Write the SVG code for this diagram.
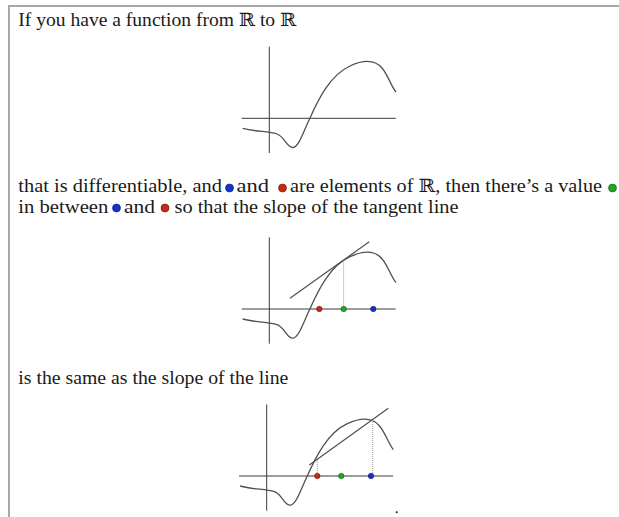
<svg xmlns="http://www.w3.org/2000/svg" xmlns:xlink="http://www.w3.org/1999/xlink" width="619" height="517" viewBox="0 0 619 517">
<style>
.t{font-family:"Liberation Serif","DejaVu Serif",serif;font-size:18.4px;fill:#1a1a1a}
.ax{stroke:#3a3a3a;stroke-width:1;fill:none}
.cv{stroke:#505050;stroke-width:1.3;fill:none}
.tl{stroke:#505050;stroke-width:1.2;fill:none}
.dt{stroke:#9a9a9a;stroke-width:1;stroke-dasharray:1 1;fill:none}
.bd{stroke:#a8a8a8;stroke-width:2;fill:none}
.r{fill:#c42a14;stroke:#6a1208;stroke-width:0.6}
.b{fill:#1434c8;stroke:#0a1a6a;stroke-width:0.6}
.g{fill:#22a822;stroke:#0e5a0e;stroke-width:0.6}
</style>
<defs>
<path id="curve" d="M242.7,128.3 C256,132 268,131 277,134 C285,137 287,148 293,147.5 C299,147 304,130 310,118 C318,100 330,75 350,66 C365,59 375,60 382,68 C388,75 391,86 396,92"/>
</defs>
<g id="border">
<path class="bd" d="M9,517 V6 H619"/>
</g>
<g id="text1">
<text class="t" x="18.3" y="26" textLength="278" lengthAdjust="spacingAndGlyphs">If you have a function from ℝ to ℝ</text>
</g>
<g id="graph1">
<line class="ax" x1="269.3" y1="46.7" x2="269.3" y2="153"/>
<line class="ax" x1="241.7" y1="118.3" x2="395.7" y2="118.3"/>
<use xlink:href="#curve" class="cv"/>
</g>
<g id="text2">
<text class="t" x="18.3" y="192.3" textLength="203.7" lengthAdjust="spacingAndGlyphs">that is differentiable, and</text>
<circle class="b" cx="229.5" cy="188" r="4"/>
<text class="t" x="236.5" y="192.3" textLength="32.5" lengthAdjust="spacingAndGlyphs">and</text>
<circle class="r" cx="282.5" cy="188" r="4"/>
<text class="t" x="290" y="192.3" textLength="312" lengthAdjust="spacingAndGlyphs">are elements of ℝ, then there’s a value</text>
<circle class="g" cx="612.5" cy="188" r="4"/>
<text class="t" x="18.3" y="212.5" textLength="90" lengthAdjust="spacingAndGlyphs">in between</text>
<circle class="b" cx="116.5" cy="208" r="4"/>
<text class="t" x="124" y="212.5" textLength="31" lengthAdjust="spacingAndGlyphs">and</text>
<circle class="r" cx="165" cy="208" r="4"/>
<text class="t" x="174.5" y="212.5" textLength="284" lengthAdjust="spacingAndGlyphs">so that the slope of the tangent line</text>
</g>
<g id="graph2">
<g transform="translate(0,190.7)">
<line class="ax" x1="269.3" y1="46.7" x2="269.3" y2="153"/>
<line class="ax" x1="241.7" y1="118.3" x2="395.7" y2="118.3"/>
<use xlink:href="#curve" class="cv"/>
</g>
<line class="tl" x1="290" y1="298.3" x2="369.3" y2="241.7"/>
<line class="dt" x1="343.6" y1="259.5" x2="343.6" y2="309"/>
<circle class="r" cx="319.3" cy="309" r="2.7"/>
<circle class="g" cx="343.7" cy="309" r="2.7"/>
<circle class="b" cx="373.3" cy="309" r="2.7"/>
</g>
<g id="text3">
<text class="t" x="18.3" y="384" textLength="270" lengthAdjust="spacingAndGlyphs">is the same as the slope of the line</text>
</g>
<g id="graph3">
<g transform="translate(-2.6,357.7)">
<line class="ax" x1="269.3" y1="46.7" x2="269.3" y2="153"/>
<line class="ax" x1="241.7" y1="118.3" x2="395.7" y2="118.3"/>
<use xlink:href="#curve" class="cv"/>
</g>
<line class="tl" x1="309.3" y1="465" x2="388.3" y2="408.3"/>
<line class="dt" x1="317.3" y1="460" x2="317.3" y2="476"/>
<line class="dt" x1="372.7" y1="420" x2="372.7" y2="476"/>
<circle class="r" cx="317.3" cy="476" r="2.7"/>
<circle class="g" cx="341.3" cy="476" r="2.7"/>
<circle class="b" cx="371" cy="476" r="2.7"/>
<rect x="395.8" y="511.3" width="1.8" height="1.8" fill="#222"/>
</g>
</svg>
